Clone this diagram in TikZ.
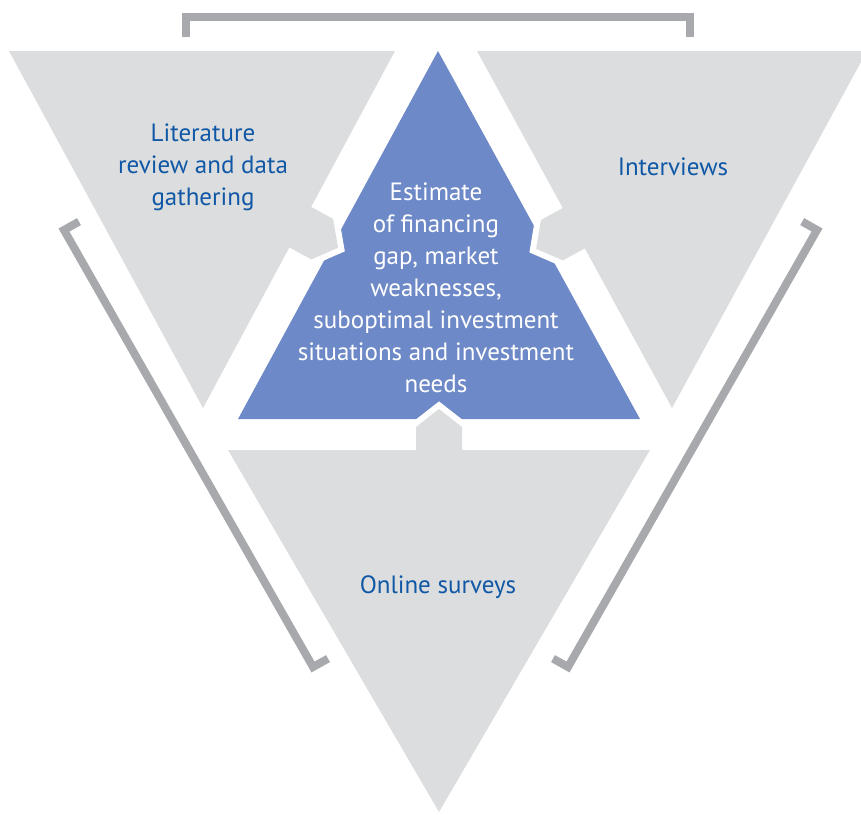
\documentclass[tikz,border=0pt]{standalone}
\usepackage{fontspec}
\setmainfont{PT Sans}
\definecolor{grayfill}{RGB}{220,221,222}
\definecolor{bluefill}{RGB}{110,137,199}
\definecolor{labelblue}{RGB}{16,88,166}
\definecolor{bracketgray}{RGB}{167,169,172}
\tikzset{
  graytri/.style={fill=grayfill},
  bluetri/.style={fill=bluefill},
  housebox/.style={fill=grayfill, preaction={draw=white, line width=12pt, line join=miter}},
  bracketline/.style={draw=bracketgray, line width=8pt, line join=miter},
  lbl/.style={text=labelblue, align=center, font=\fontsize{25}{32}\selectfont, inner sep=0pt},
  wlbl/.style={text=white, align=center, font=\fontsize{25}{32}\selectfont, inner sep=0pt}
}
\begin{document}
\begin{tikzpicture}[x=1pt,y=-1pt]
\useasboundingbox (0,0) rectangle (861,814);
% central triangle
\fill[bluetri] (438,51) -- (238,419) -- (640,419) -- cycle;
% connecting arrow-shaped tabs
\path[housebox] (416,452) -- (416,427) -- (439,409) -- (462,427) -- (462,452) -- cycle;
\path[housebox] (309.3,205.9) -- (333.1,218.9) -- (338.1,247.7) -- (311.3,259.4) -- (287.5,246.4) -- cycle;
\path[housebox] (564.6,207.0) -- (540.9,220.0) -- (536.1,248.8) -- (562.9,260.4) -- (586.6,247.4) -- cycle;
% outer triangles
\fill[graytri] (9,51) -- (395,51) -- (203,408) -- cycle;
\fill[graytri] (477,51) -- (867,51) -- (672,408) -- cycle;
\fill[graytri] (228,450) -- (650,450) -- (439,812) -- cycle;
% brackets
\draw[bracketline] (186,37) -- (186,16.5) -- (690,16.5) -- (690,37);
\draw[bracketline] (79,221.6) -- (64,230) -- (313,667) -- (328,658.6);
\draw[bracketline] (802.2,221.6) -- (817,230) -- (568,667) -- (553,658.6);
% labels
\node[lbl] (lit) at (203,167) {Literature\\review and data\\gathering};
\node[lbl] (int) at (673,167) {Interviews};
\node[lbl] (onl) at (438,587) {Online surveys};
\node[wlbl] (est) at (436,288) {Estimate\\of financing\\gap, market\\weaknesses,\\suboptimal investment\\situations and investment\\needs};
\end{tikzpicture}
\end{document}
